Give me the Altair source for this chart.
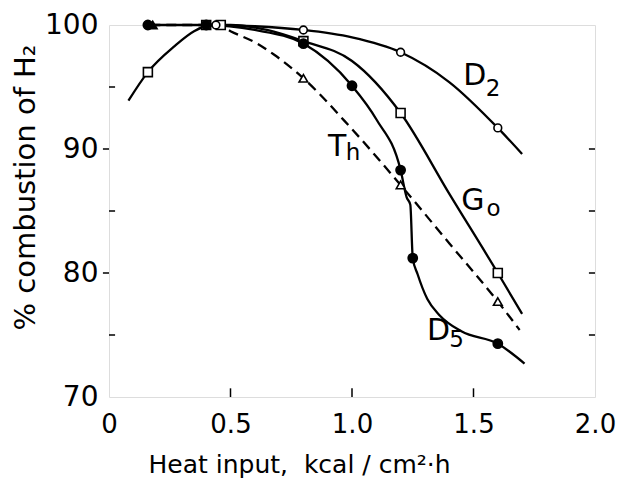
import altair as alt
import pandas as pd

# ---- data ----
go_x = [0.08, 0.16, 0.27, 0.35, 0.42, 0.50, 0.65, 0.80, 1.00, 1.20, 1.40, 1.60, 1.70]
go_y = [93.9, 96.2, 98.3, 99.5, 100.0, 100.0, 99.6, 98.7, 97.1, 92.9, 86.4, 80.0, 76.7]
go_mx = [0.16, 0.40, 0.46, 0.80, 1.20, 1.60]
go_my = [96.2, 100.0, 100.0, 98.7, 92.9, 80.0]

d2_x = [0.42, 0.60, 0.80, 1.00, 1.20, 1.40, 1.60, 1.70]
d2_y = [100.0, 99.9, 99.6, 99.0, 97.8, 95.4, 91.7, 89.6]
d2_mx = [0.44, 0.80, 1.20, 1.60]
d2_my = [100.0, 99.6, 97.8, 91.7]

d5_x = [0.16, 0.40, 0.60, 0.80, 1.00, 1.10, 1.20, 1.225, 1.24, 1.25, 1.27, 1.31, 1.36, 1.45, 1.60, 1.71]
d5_y = [100.0, 100.0, 99.6, 98.5, 95.1, 92.4, 88.3, 86.1, 85.5, 81.2, 79.9, 77.9, 76.6, 75.3, 74.3, 72.7]
d5_mx = [0.16, 0.40, 0.80, 1.00, 1.20, 1.25, 1.60]
d5_my = [100.0, 100.0, 98.5, 95.1, 88.3, 81.2, 74.3]

th_x = [0.17, 0.45, 0.50, 0.61, 0.68, 0.80, 1.00, 1.20, 1.40, 1.60, 1.69]
th_y = [100.0, 100.0, 99.5, 98.5, 97.6, 95.7, 91.6, 87.1, 82.4, 77.7, 75.4]
th_mx = [0.80, 1.20, 1.60]
th_my = [95.7, 87.1, 77.7]
th_fx = [0.18]
th_fy = [100.0]

x_ticks = [0, 0.5, 1.0, 1.5, 2.0]
y_ticks = [70, 80, 90, 100]
x_inner = [0.5, 1.0, 1.5]
y_left_out = [80, 90]
y_left_in = [75, 85, 95]
y_right_in = [75, 80, 85, 90]

lab_main = ["D", "T", "G", "D"]
lab_main_x = [1.505, 0.939, 1.497, 1.356]
lab_main_y = [95.85, 90.16, 85.81, 75.32]
lab_sub = ["2", "h", "o", "5"]
lab_sub_x = [1.580, 1.004, 1.582, 1.430]
lab_sub_y = [94.80, 89.70, 85.20, 74.60]

FONT = "DejaVu Sans"
xs = alt.Scale(domain=[0, 2], nice=False, zero=False)
ys = alt.Scale(domain=[70, 100], nice=False, zero=False)

xax = alt.Axis(values=x_ticks, labelExpr="datum.value == 0 ? '0' : format(datum.value, '.1f')",
               grid=False, ticks=False, tickSize=0, domain=False, labelFlush=False,
               labelOverlap=False, labelFont=FONT, labelFontSize=26, labelColor="black",
               labelBaseline="alphabetic", labelPadding=35,
               title="Heat input,\u00a0\u00a0kcal / cm\u00b2\u00b7h", titleFont=FONT,
               titleFontSize=25, titleFontWeight="normal", titleColor="black",
               titleAnchor="start", titleAlign="left", titleX=39, titleY=75,
               titleBaseline="alphabetic")
yax = alt.Axis(values=y_ticks, grid=False, ticks=False, tickSize=0, domain=False,
               labelFlush=False, labelOverlap=False, labelFont=FONT, labelFontSize=28,
               labelColor="black", labelBaseline="middle", labelPadding=11,
               title="% combustion of H\u2082", titleFont=FONT, titleFontSize=29,
               titleFontWeight="normal", titleColor="black", titleAngle=270,
               titleAlign="center", titleBaseline="middle", titleX=-84, titleY=162)

def df(xv, yv):
    return pd.DataFrame({"x": xv, "y": yv})

def line(xv, yv, dash=None):
    kw = dict(color="black", strokeWidth=2.3, interpolate="monotone")
    if dash:
        kw["strokeDash"] = dash
    return alt.Chart(df(xv, yv)).mark_line(**kw).encode(
        x=alt.X("x:Q", scale=xs, axis=xax), y=alt.Y("y:Q", scale=ys, axis=yax))

def pts(xv, yv, shape, filled, size):
    return alt.Chart(df(xv, yv)).mark_point(
        shape=shape, filled=True, fill="black" if filled else "white",
        stroke="black", strokeWidth=1.6, size=size, opacity=1).encode(
        x=alt.X("x:Q", scale=xs), y=alt.Y("y:Q", scale=ys))

# tick rules
tick_x = alt.Chart(pd.DataFrame({"x": x_inner, "y": [70] * 3, "y2": [70.7] * 3})).mark_rule(
    color="black", strokeWidth=1.5).encode(x=alt.X("x:Q", scale=xs), y=alt.Y("y:Q", scale=ys), y2="y2")
tick_lo = alt.Chart(pd.DataFrame({"y": y_left_out, "x": [-0.025] * 2, "x2": [0] * 2})).mark_rule(
    color="black", strokeWidth=1.5).encode(y=alt.Y("y:Q", scale=ys), x=alt.X("x:Q", scale=xs), x2="x2")
tick_li = alt.Chart(pd.DataFrame({"y": y_left_in, "x": [0] * 3, "x2": [0.025] * 3})).mark_rule(
    color="black", strokeWidth=1.5).encode(y=alt.Y("y:Q", scale=ys), x=alt.X("x:Q", scale=xs), x2="x2")
tick_ri = alt.Chart(pd.DataFrame({"y": y_right_in, "x": [1.975] * 4, "x2": [2.0] * 4})).mark_rule(
    color="black", strokeWidth=1.5).encode(y=alt.Y("y:Q", scale=ys), x=alt.X("x:Q", scale=xs), x2="x2")

labels_main = alt.Chart(pd.DataFrame({"x": lab_main_x, "y": lab_main_y, "t": lab_main})).mark_text(
    font=FONT, fontSize=30, color="black", align="center", baseline="middle").encode(
    x=alt.X("x:Q", scale=xs), y=alt.Y("y:Q", scale=ys), text="t:N")
labels_sub = alt.Chart(pd.DataFrame({"x": lab_sub_x, "y": lab_sub_y, "t": lab_sub})).mark_text(
    font=FONT, fontSize=23, color="black", align="center", baseline="middle").encode(
    x=alt.X("x:Q", scale=xs), y=alt.Y("y:Q", scale=ys), text="t:N")

chart = alt.layer(
    line(go_x, go_y),
    line(d2_x, d2_y),
    line(d5_x, d5_y),
    line(th_x, th_y, dash=[10, 6]),
    tick_x, tick_lo, tick_li, tick_ri,
    pts(go_mx, go_my, "square", False, 80),
    pts(d2_mx, d2_my, "circle", False, 60),
    pts(th_mx, th_my, "triangle-up", False, 75),
    pts(th_fx, th_fy, "triangle-up", True, 75),
    pts(d5_mx, d5_my, "circle", True, 85),
    labels_main, labels_sub,
).properties(
    width=486, height=372,
    autosize=alt.AutoSizeParams(type="none"),
    padding={"left": 101, "top": 17, "right": 21, "bottom": 81},
).configure_view(stroke="black", strokeWidth=1.5).configure(background="white")

chart.save("out.html", embed_options={"renderer": "svg", "actions": False})
